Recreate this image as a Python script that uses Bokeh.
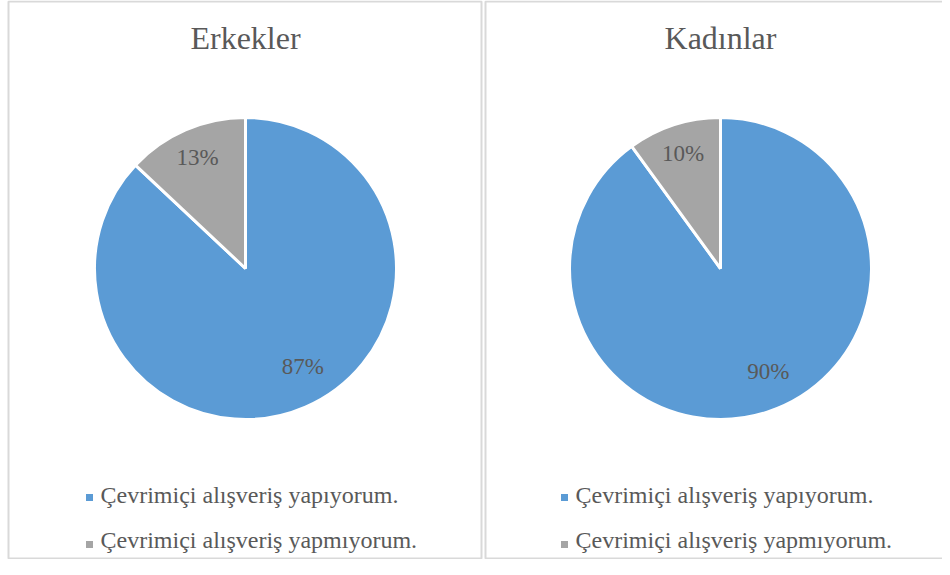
import math
from bokeh.plotting import figure
from bokeh.models import Range1d
from bokeh.core.properties import value
from bokeh.embed import file_html
from bokeh.resources import INLINE

# ---- data ----
panel_titles = ["Erkekler", "Kadınlar"]
categories = ["Çevrimiçi alışveriş yapıyorum.", "Çevrimiçi alışveriş yapmıyorum."]
erkekler = [87, 13]
kadinlar = [90, 10]
series = [erkekler, kadinlar]

# ---- style ----
colors = ["#5B9BD5", "#A5A5A5"]
text_color = "#595959"
border_color = "#D9D9D9"
font = value("Liberation Serif")

W, H = 942, 559
p = figure(width=W, height=H, output_backend="svg", toolbar_location=None,
           x_range=Range1d(0, W), y_range=Range1d(0, H),
           min_border=0, min_border_left=0, min_border_right=0,
           min_border_top=0, min_border_bottom=0)
p.axis.visible = False
p.grid.visible = False
p.outline_line_color = None
p.background_fill_color = "white"
p.border_fill_color = "white"

# panel frames
p.quad(left=[8, 485], right=[481, 960], bottom=[1, 1], top=[558, 558],
       fill_color=None, line_color=border_color, line_width=2)

centers_x = [245, 720]
center_y = 291
R = 151
label_fs = 23
legend_fs = 24

for k, vals in enumerate(series):
    cx = centers_x[k]
    total = float(sum(vals))
    cum = 0.0
    starts, ends, lx, ly, labels = [], [], [], [], []
    for v in vals:
        frac0 = cum / total
        frac1 = (cum + v) / total
        starts.append(math.pi / 2 - 2 * math.pi * frac0)
        ends.append(math.pi / 2 - 2 * math.pi * frac1)
        mid = (frac0 + frac1) / 2 * 360.0  # clockwise from top, degrees
        if v / total > 0.5:
            mid -= 7.0
            d = 0.75 * R
        else:
            d = 0.80 * R
        a = math.radians(mid)
        lx.append(cx + d * math.sin(a))
        ly.append(center_y + d * math.cos(a))
        labels.append(f"{round(100 * v / total)}%")
        cum += v
    p.wedge(x=[cx] * len(vals), y=[center_y] * len(vals), radius=R,
            start_angle=starts, end_angle=ends, direction="clock",
            fill_color=colors, line_color="white", line_width=3)
    p.text(x=lx, y=ly, text=labels, text_font=font,
           text_font_size=f"{label_fs}px", text_color=text_color,
           text_align="center", text_baseline="alphabetic")
    # title
    p.text(x=[cx], y=[522], text=[panel_titles[k]], text_font=font,
           text_font_size="32px", text_color=text_color,
           text_align="center", text_baseline="alphabetic")
    # legend
    mx = cx - 156
    p.scatter(x=[mx, mx], y=[62, 15], marker="square", size=7,
              fill_color=colors, line_color=None)
    p.text(x=[mx + 11, mx + 11], y=[65, 20], text=categories, text_font=font,
           text_font_size=f"{legend_fs}px", text_color=text_color,
           text_align="left", text_baseline="alphabetic")

open("out.html", "w").write(file_html(p, INLINE))
